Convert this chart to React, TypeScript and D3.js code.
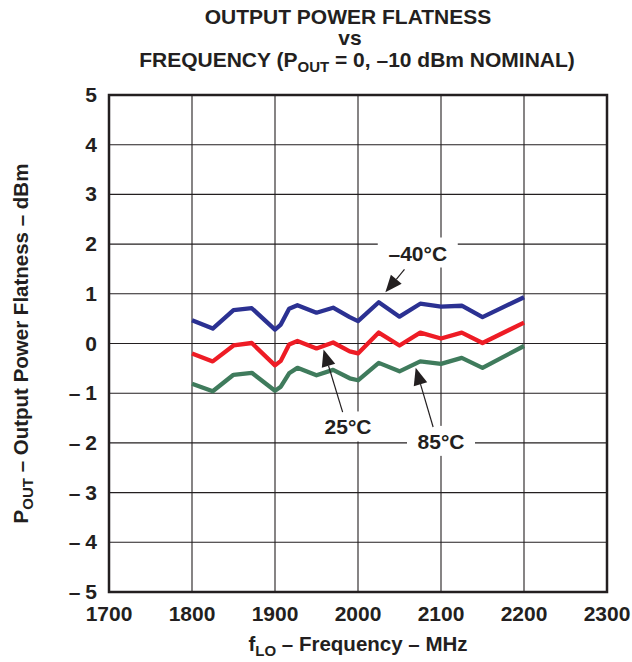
import React from "react";
import * as d3 from "d3";

const freqs = [1800, 1825, 1850, 1872, 1900, 1907, 1917, 1927, 1950, 1970, 1990, 2000, 2025, 2050, 2075, 2100, 2125, 2150, 2200];
const coldVals = [0.47, 0.30, 0.67, 0.71, 0.28, 0.38, 0.70, 0.77, 0.62, 0.72, 0.53, 0.45, 0.83, 0.54, 0.80, 0.74, 0.76, 0.53, 0.93];
const roomVals = [-0.20, -0.36, -0.04, 0.01, -0.44, -0.35, -0.02, 0.05, -0.10, 0.02, -0.16, -0.20, 0.22, -0.04, 0.22, 0.10, 0.22, 0.01, 0.42];
const hotVals = [-0.81, -0.96, -0.63, -0.59, -0.95, -0.87, -0.60, -0.49, -0.64, -0.53, -0.70, -0.74, -0.39, -0.56, -0.36, -0.41, -0.29, -0.49, -0.05];

const xTicks = [1700, 1800, 1900, 2000, 2100, 2200, 2300];
const yTicks = [5, 4, 3, 2, 1, 0, -1, -2, -3, -4, -5];

const seriesNames = ["–40°C", "25°C", "85°C"];
const seriesColors = ["#2b3192", "#ee1c25", "#3f7b5c"];

// annotation: label position and arrow (start -> tip) in data units
const annLabelX = [2072, 1988, 2100];
const annLabelY = [1.67, -1.83, -2.12];
const annFromX = [2056, 1981.5, 2090.5];
const annFromY = [1.49, -1.38, -1.68];
const annTipX = [2033, 1958.5, 2069.5];
const annTipY = [1.03, -0.12, -0.49];

const W = 632;
const H = 662;
const left = 109;
const right = 607;
const top = 95;
const bottom = 592;
const FONT = "'Liberation Sans', Arial, Helvetica, sans-serif";

export default function App() {
  const x = d3.scaleLinear().domain([1700, 2300]).range([left, right]);
  const y = d3.scaleLinear().domain([-5, 5]).range([bottom, top]);
  const line = d3
    .line<[number, number]>()
    .x((d) => x(d[0]))
    .y((d) => y(d[1]));
  const all = [coldVals, roomVals, hotVals];

  return (
    <svg
      width={W}
      height={H}
      style={{ position: "absolute", left: 0, top: 0, background: "#fff" }}
      fontFamily={FONT}
    >
      <rect x={0} y={0} width={W} height={H} fill="#fff" />
      {/* title */}
      <g fontWeight="bold" fontSize={21} textAnchor="middle" fill="#231f20">
        <text x={348} y={24}>OUTPUT POWER FLATNESS</text>
        <text x={350} y={45}>vs</text>
        <text x={357} y={67}>
          FREQUENCY (P<tspan fontSize={15} dy={5}>OUT</tspan>
          <tspan dy={-5}> = 0, –10 dBm NOMINAL)</tspan>
        </text>
      </g>
      {/* grid */}
      <g stroke="#231f20" strokeWidth={1.1}>
        {xTicks.slice(1, -1).map((t) => (
          <line key={"gx" + t} x1={x(t)} x2={x(t)} y1={top} y2={bottom} />
        ))}
        {yTicks.slice(1, -1).map((t) => (
          <line key={"gy" + t} x1={left} x2={right} y1={y(t)} y2={y(t)} />
        ))}
      </g>
      {/* tick labels */}
      <g fontWeight="bold" fontSize={21} fill="#231f20">
        {yTicks.map((t) => (
          <text key={"ty" + t} x={left - 12} y={y(t) + 7} textAnchor="end">
            {t < 0 ? (
              <>
                <tspan>–</tspan>
                <tspan dx={5}>{Math.abs(t)}</tspan>
              </>
            ) : (
              String(t)
            )}
          </text>
        ))}
        {xTicks.map((t) => (
          <text key={"tx" + t} x={x(t)} y={bottom + 29} textAnchor="middle">
            {t}
          </text>
        ))}
      </g>
      {/* axis labels */}
      <text x={358} y={651} textAnchor="middle" fontWeight="bold" fontSize={20.5} fill="#231f20">
        f<tspan fontSize={15} dy={5}>LO</tspan>
        <tspan dy={-5}> – Frequency – MHz</tspan>
      </text>
      <text
        transform={`translate(28, ${(top + bottom) / 2}) rotate(-90)`}
        textAnchor="middle"
        fontWeight="bold"
        fontSize={20.5}
        fill="#231f20"
      >
        P<tspan fontSize={15} dy={5}>OUT</tspan>
        <tspan dy={-5}> – Output Power Flatness – dBm</tspan>
      </text>
      {/* curves */}
      {all.map((vals, i) => (
        <path
          key={"s" + i}
          d={line(freqs.map((f, j) => [f, vals[j]] as [number, number])) || ""}
          fill="none"
          stroke={seriesColors[i]}
          strokeWidth={4.3}
          strokeLinejoin="round"
          strokeLinecap="butt"
        />
      ))}
      {/* annotations */}
      {seriesNames.map((name, i) => {
        const lx = x(annLabelX[i]);
        const ly = y(annLabelY[i]);
        const fx = x(annFromX[i]);
        const fy = y(annFromY[i]);
        const tx = x(annTipX[i]);
        const ty = y(annTipY[i]);
        const ang = Math.atan2(ty - fy, tx - fx);
        const L = 17;
        const hw = 7;
        const bx = tx - L * Math.cos(ang);
        const by = ty - L * Math.sin(ang);
        const px = -Math.sin(ang);
        const py = Math.cos(ang);
        const tri = `M${tx},${ty}L${bx + hw * px},${by + hw * py}L${bx - hw * px},${by - hw * py}Z`;
        const bw = name.length * 12 + 20;
        return (
          <g key={"a" + i}>
            <rect x={lx - bw / 2} y={ly - 23} width={bw} height={30} fill="#fff" />
            <text x={lx} y={ly} textAnchor="middle" fontWeight="bold" fontSize={21} fill="#231f20">
              {name}
            </text>
            <line x1={fx} y1={fy} x2={bx} y2={by} stroke="#231f20" strokeWidth={1.2} />
            <path d={tri} fill="#231f20" />
          </g>
        );
      })}
      {/* frame */}
      <rect
        x={left}
        y={top}
        width={right - left}
        height={bottom - top}
        fill="none"
        stroke="#231f20"
        strokeWidth={2.5}
      />
    </svg>
  );
}
